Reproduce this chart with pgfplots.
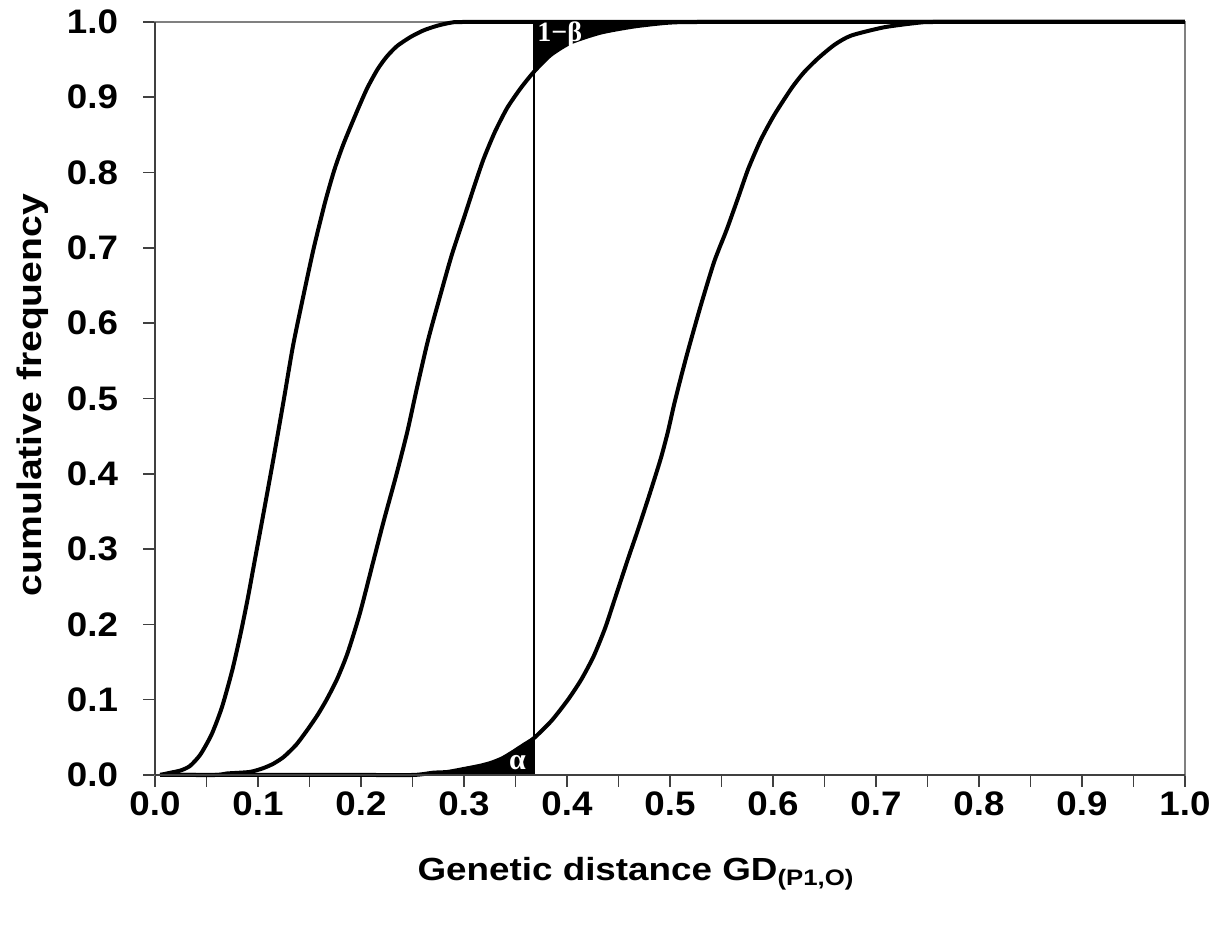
\documentclass[border=0pt]{standalone}
\usepackage{fontspec}
\setmainfont{Liberation Sans}
\newfontfamily\lbl{Liberation Sans}[FakeStretch=1.08]
\newfontfamily\xlbl{Liberation Sans}[FakeStretch=1.15]
\newfontfamily\grk{Liberation Serif}
\usepackage{pgfplots}
\pgfplotsset{compat=1.18}
\usepgfplotslibrary{fillbetween}
\definecolor{axgray}{HTML}{808080}
\definecolor{axdark}{HTML}{404040}
\begin{document}
\begin{tikzpicture}
\begin{axis}[
  scale only axis, width=515pt, height=376.5pt,
  xmin=0, xmax=1, ymin=0, ymax=1,
  clip=false,
  axis line style={draw=axgray, line width=0.8pt},
  xtick={0,0.1,0.2,0.3,0.4,0.5,0.6,0.7,0.8,0.9,1.0},
  minor xtick={0.05,0.15,0.25,0.35,0.45,0.55,0.65,0.75,0.85,0.95},
  ytick={0,0.1,0.2,0.3,0.4,0.5,0.6,0.7,0.8,0.9,1.0},
  xtick pos=bottom, ytick pos=left,
  tick align=outside,
  major tick length=6pt, minor tick length=6pt,
  tick style={draw=axdark, line width=0.8pt},
  every minor tick/.style={draw=axdark, line width=0.8pt},
  /pgf/number format/assume math mode=true,
  /pgf/number format/.cd, fixed, fixed zerofill, precision=1, /pgfplots/.cd,
  tick label style={font=\lbl\bfseries\fontsize{17}{17}\selectfont},
  xticklabel style={yshift=1pt},
  yticklabel style={xshift=-9pt},
  every axis plot/.append style={smooth, tension=0.4},
]
\addplot[draw=none, name path=base, forget plot, sharp plot] coordinates {(0,0) (1,0)};
\addplot[draw=none, name path=top, forget plot, sharp plot] coordinates {(0,1) (1,1)};

% curve 1
\addplot[black, line width=2pt, line join=round, name path=c1] table {
x y
0.005 0.000
0.015 0.003
0.025 0.006
0.034 0.012
0.044 0.027
0.055 0.054
0.065 0.090
0.075 0.139
0.083 0.187
0.090 0.234
0.097 0.286
0.105 0.345
0.115 0.420
0.125 0.498
0.134 0.570
0.144 0.636
0.154 0.699
0.165 0.760
0.174 0.803
0.183 0.838
0.196 0.881
0.206 0.912
0.216 0.937
0.225 0.954
0.235 0.968
0.248 0.980
0.261 0.989
0.274 0.995
0.287 0.999
0.300 1.000
0.400 1.000
0.600 1.000
1.000 1.000
};

% curve 2
\addplot[black, line width=2pt, line join=round, name path=c2] table {
x y
0.005 0.000
0.030 0.000
0.060 0.000
0.070 0.002
0.092 0.004
0.105 0.009
0.115 0.015
0.125 0.024
0.137 0.040
0.148 0.060
0.158 0.080
0.167 0.101
0.177 0.128
0.187 0.162
0.199 0.215
0.212 0.284
0.222 0.337
0.234 0.397
0.245 0.456
0.254 0.512
0.265 0.577
0.277 0.637
0.288 0.690
0.300 0.740
0.310 0.782
0.319 0.818
0.330 0.854
0.342 0.886
0.355 0.912
0.368 0.934
0.384 0.956
0.404 0.973
0.433 0.986
0.465 0.994
0.498 0.999
0.530 1.000
0.700 1.000
1.000 1.000
};

% curve 3
\addplot[black, line width=2pt, line join=round, name path=c3] table {
x y
0.005 0.000
0.100 0.000
0.200 0.000
0.251 0.000
0.270 0.003
0.284 0.004
0.300 0.008
0.315 0.012
0.326 0.016
0.337 0.022
0.348 0.031
0.358 0.040
0.368 0.049
0.385 0.072
0.401 0.100
0.414 0.127
0.426 0.158
0.437 0.195
0.446 0.232
0.459 0.286
0.469 0.326
0.480 0.372
0.491 0.420
0.498 0.456
0.504 0.492
0.511 0.530
0.518 0.566
0.530 0.624
0.543 0.682
0.555 0.724
0.566 0.766
0.576 0.805
0.588 0.843
0.601 0.876
0.618 0.912
0.630 0.933
0.644 0.952
0.660 0.970
0.676 0.982
0.708 0.993
0.741 0.999
0.757 1.000
0.850 1.000
1.000 1.000
};

\addplot[black, forget plot] fill between[of=c3 and base, soft clip={domain=0:0.368}];
\addplot[black, forget plot] fill between[of=c2 and top, soft clip={domain=0.368:1}];

% cut-off line
\addplot[black, line width=0.75pt, sharp plot] coordinates {(0.368,0) (0.368,1)};

\node[text=white, font=\grk\bfseries\fontsize{15}{15}\selectfont] at (axis cs:0.352,0.017) {α};
\node[text=white, anchor=west, inner sep=1pt, font=\grk\bfseries\fontsize{14}{14}\selectfont] at (axis cs:0.369,0.983) {1−β};

\draw[axdark, line width=0.8pt] (rel axis cs:0,0) -- (rel axis cs:0,1);
\draw[axdark, line width=0.8pt] (rel axis cs:0,0) -- (rel axis cs:1,0);

\node[font=\xlbl\bfseries\fontsize{16}{16}\selectfont] at (rel axis cs:0.467,-0.131) {Genetic distance GD\textsubscript{(P1,O)}};
\node[rotate=90, font=\xlbl\bfseries\fontsize{17}{17}\selectfont] at (rel axis cs:-0.1184,0.5046) {cumulative frequency};

\coordinate (bbsw) at (rel axis cs:-0.1505,-0.1992);
\coordinate (bbne) at (rel axis cs:1.0379,1.0292);
\end{axis}
\pgfresetboundingbox
\path[use as bounding box] (bbsw) rectangle (bbne);
\end{tikzpicture}
\end{document}
